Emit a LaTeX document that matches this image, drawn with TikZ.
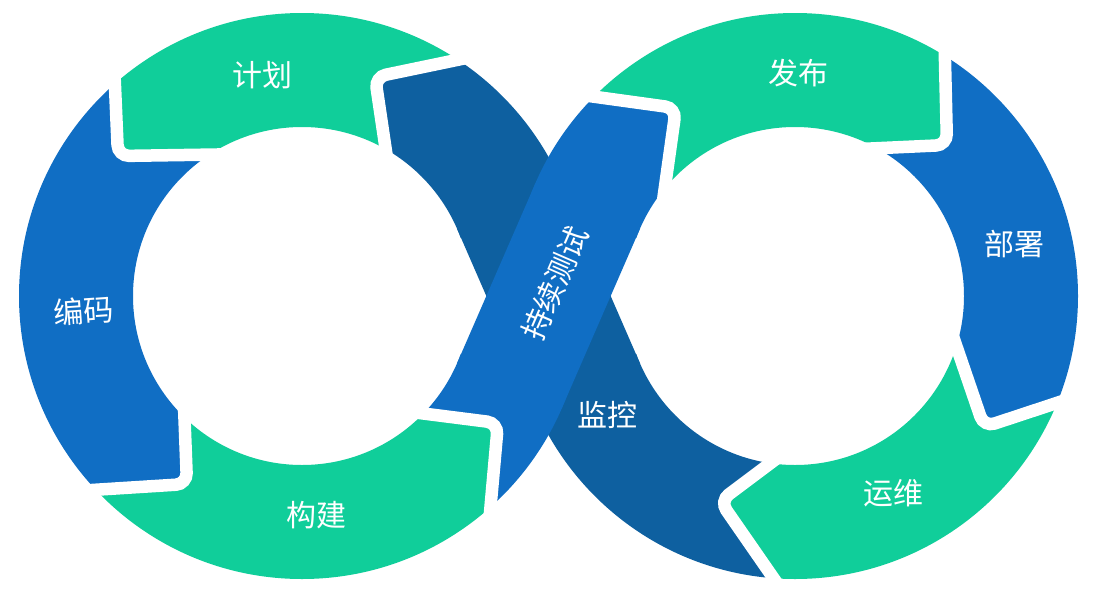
\documentclass[tikz,border=0pt]{standalone}
\usepackage{fontspec}
\newfontfamily\cjk{Noto Sans CJK SC}
\definecolor{stagegreen}{HTML}{10CE9A}
\definecolor{stageblue}{HTML}{106EC4}
\definecolor{stagedark}{HTML}{0E60A0}
\newcommand\leftring{(c1) circle[radius=283pt] (c1) circle[radius=169pt]}
\newcommand\rightring{(c2) circle[radius=283pt] (c2) circle[radius=169pt]}
\tikzset{
  stage label/.style={text=white, inner sep=0pt,
                      font=\cjk\fontsize{30}{30}\selectfont},
  ring part/.style={even odd rule},
  gap/.style={draw=white, line width=12.5pt, rounded corners=11pt}
}

\begin{document}
\begin{tikzpicture}[x=1pt, y=-1pt]
\useasboundingbox[fill=white] (0,0) rectangle (1101,592);
\coordinate (c1) at (302,296);
\coordinate (c2) at (795,296);
\coordinate (a in) at (250,154);
\coordinate (a tip) at (118,156);
\coordinate (a out) at (113,40);
\coordinate (b in) at (183,380);
\coordinate (b tip) at (187,484);
\coordinate (b out) at (60,492);
\coordinate (c in) at (380,408);
\coordinate (c tip) at (498,423);
\coordinate (c out) at (488,535);
\coordinate (d out) at (560,92);
\coordinate (d tip) at (676,108);
\coordinate (d in) at (661,215);
\coordinate (e out) at (944,20);
\coordinate (e tip) at (947,145);
\coordinate (e in) at (860,149);
\coordinate (f in) at (944,310);
\coordinate (f tip) at (984,427);
\coordinate (f out) at (1090,392);
\coordinate (g in) at (800,441);
\coordinate (g tip) at (720,501);
\coordinate (g out) at (790,602);
\coordinate (h out) at (500,51);
\coordinate (h tip) at (375,77);
\coordinate (h in) at (391,185);

\begin{scope}
    \clip (c1) -- (h in) -- (h tip) -- (h out) -- (302,-100)
        -- (a out) -- (a tip) -- (a in) -- cycle;
    \fill[stagegreen, ring part] \leftring;
\end{scope}
\begin{scope}
    \clip (c1) -- (a in) -- (a tip) -- (a out) -- (-100,296)
        -- (b out) -- (b tip) -- (b in) -- cycle;
    \fill[stageblue, ring part] \leftring;
\end{scope}
\begin{scope}
    \clip (c1) -- (b in) -- (b tip) -- (b out) -- (302,700)
        -- (c out) -- (c tip) -- (c in) -- cycle;
    \fill[stagegreen, ring part] \leftring;
\end{scope}
\begin{scope}
    \clip (c2) -- (d in) -- (d tip) -- (d out) -- (795,-100)
        -- (e out) -- (e tip) -- (e in) -- cycle;
    \fill[stagegreen, ring part] \rightring;
\end{scope}
\begin{scope}
    \clip (c2) -- (e in) -- (e tip) -- (e out) -- (1200,296)
        -- (f out) -- (f tip) -- (f in) -- cycle;
    \fill[stageblue, ring part] \rightring;
\end{scope}
\begin{scope}
    \clip (c2) -- (f in) -- (f tip) -- (f out) -- (1050,650) -- (795,700)
        -- (g out) -- (g tip) -- (g in) -- cycle;
    \fill[stagegreen, ring part] \rightring;
\end{scope}

\begin{scope}
    \clip (c1) -- (631,176) -- (h out) -- (h tip) -- (h in) -- cycle;
    \fill[stagedark, ring part] \leftring;
\end{scope}
\fill[stagedark] (456.95,228.53) coordinate (k1) -- (561.47,183.01) coordinate (k2)
    -- (640.05,363.47) coordinate (k3) -- (535.53,408.99) coordinate (k4) -- cycle;
\begin{scope}
    \clip (c2) -- (g in) -- (g tip) -- (g out) -- (560,620) -- (466,416) -- cycle;
    \fill[stagedark, ring part] \rightring;
\end{scope}

\begin{scope}
    \clip (c1) -- (c in) -- (c tip) -- (c out) -- (631,416) -- cycle;
    \fill[stageblue, ring part] \leftring;
\end{scope}
\fill[stageblue] (456.95,363.47) coordinate (l1) -- (561.47,408.99) coordinate (l2)
    -- (640.05,228.53) coordinate (l3) -- (535.53,183.01) coordinate (l4) -- cycle;
\begin{scope}
    \clip (c2) -- (466,176) -- (d out) -- (d tip) -- (d in) -- cycle;
    \fill[stageblue, ring part] \rightring;
\end{scope}

\draw[gap] (a out) -- (a tip) -- (a in);
\draw[gap] (b out) -- (b tip) -- (b in);
\draw[gap] (c in) -- (c tip) -- (c out);
\draw[gap] (d out) -- (d tip) -- (d in);
\draw[gap] (e out) -- (e tip) -- (e in);
\draw[gap] (f in) -- (f tip) -- (f out);
\draw[gap] (g in) -- (g tip) -- (g out);
\draw[gap] (h out) -- (h tip) -- (h in);

\node[stage label] (plan) at (262,75) {计划};
\node[stage label, rotate=4] (code) at (84,311) {编码};
\node[stage label] (build) at (316,515) {构建};
\node[stage label, rotate=66.5] (test) at (555,283) {持续测试};
\node[stage label] (release) at (798,73) {发布};
\node[stage label] (deploy) at (1014,244) {部署};
\node[stage label] (operate) at (893,493) {运维};
\node[stage label] (monitor) at (607,415) {监控};
\end{tikzpicture}
\end{document}
